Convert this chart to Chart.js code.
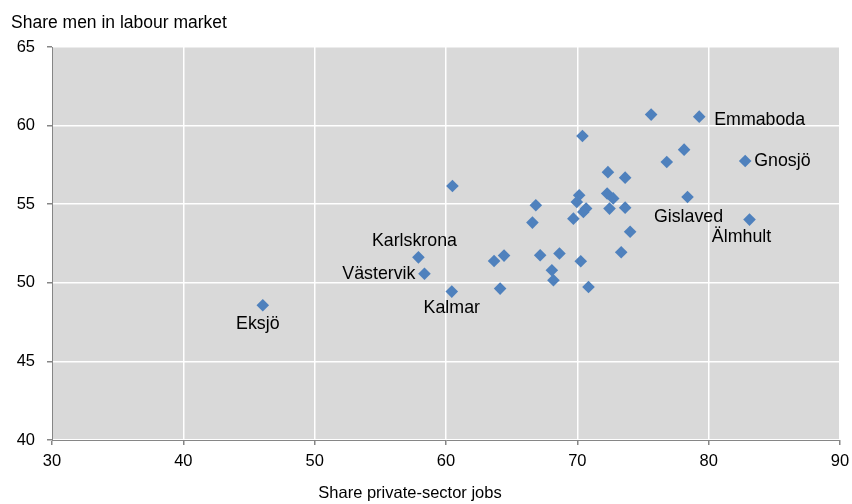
<!DOCTYPE html>
<html>
<head>
<meta charset="utf-8">
<script src="https://cdn.jsdelivr.net/npm/chart.js@4.4.1/dist/chart.umd.min.js"></script>
<style>
  html, body { margin: 0; padding: 0; background: #fff; }
  #wrap { width: 852px; height: 504px; position: relative; }
</style>
</head>
<body>
<div id="wrap"><canvas id="chart"></canvas></div>
<script>
// share of private-sector jobs (x) and share of men in labour market (y), per municipality
let privateJobs = [
  70.39, 72.33, 60.49, 66.84, 66.58, 70.14, 69.96, 70.67, 70.46, 69.70,
  72.27, 72.73, 72.45, 73.64, 74.02, 75.62, 79.28, 78.13, 76.81, 82.78,
  73.64, 78.39, 83.11, 73.34, 57.90, 58.36, 60.44, 46.05, 63.66, 64.42,
  64.12, 67.17, 68.64, 68.06, 68.18, 70.26, 70.85
];
let menShare = [
  59.34, 57.04, 56.16, 54.93, 53.83, 55.57, 55.14, 54.73, 54.51, 54.08,
  55.68, 55.37, 54.72, 54.78, 53.25, 60.70, 60.57, 58.47, 57.68, 57.75,
  56.69, 55.46, 54.02, 51.94, 51.62, 50.58, 49.44, 48.57, 51.39, 51.73,
  49.63, 51.75, 51.86, 50.80, 50.16, 51.37, 49.73
];
let names = [
  "", "", "", "", "", "", "", "", "", "",
  "", "", "", "", "", "", "Emmaboda", "", "", "Gnosjö",
  "", "Gislaved", "Älmhult", "", "Karlskrona", "Västervik", "Kalmar", "Eksjö", "", "",
  "", "", "", "", "", "", ""
];
let xTicks = [30, 40, 50, 60, 70, 80, 90];
let yTicks = [40, 45, 50, 55, 60, 65];

let xTitle = "Share private-sector jobs";
let yTitle = "Share men in labour market";

// where each town name sits relative to its marker
let labelPlace = {
  "Emmaboda":   { align: "left",   dx: 15, dy: 3 },
  "Gnosjö":     { align: "left",   dx: 9,  dy: 0 },
  "Gislaved":   { align: "center", dx: 1,  dy: 20 },
  "Älmhult":    { align: "center", dx: -8, dy: 17 },
  "Karlskrona": { align: "center", dx: -4, dy: -16 },
  "Västervik":  { align: "right",  dx: -9, dy: 0 },
  "Kalmar":     { align: "center", dx: 0,  dy: 16 },
  "Eksjö":      { align: "center", dx: -5, dy: 19 }
};

let FONT = "'Liberation Sans', Arial, sans-serif";

let points = privateJobs.map(function(x, i) { return { x: x, y: menShare[i] }; });

let plotBg = {
  id: "plotBg",
  beforeDraw: function(chart) {
    let a = chart.chartArea, ctx = chart.ctx;
    ctx.save();
    ctx.fillStyle = "#D9D9D9";
    ctx.fillRect(a.left, a.top, a.right - a.left, a.bottom - a.top);
    ctx.restore();
  }
};

let townLabels = {
  id: "townLabels",
  afterDatasetsDraw: function(chart) {
    let ctx = chart.ctx;
    let meta = chart.getDatasetMeta(0);
    ctx.save();
    ctx.font = "17.8px " + FONT;
    ctx.fillStyle = "#000";
    ctx.textBaseline = "middle";
    names.forEach(function(n, i) {
      if (!n) return;
      let p = labelPlace[n];
      let el = meta.data[i];
      ctx.textAlign = p.align;
      ctx.fillText(n, el.x + p.dx, el.y + p.dy);
    });
    ctx.restore();
  }
};

let axisTitles = {
  id: "axisTitles",
  afterDraw: function(chart) {
    let ctx = chart.ctx;
    ctx.save();
    ctx.fillStyle = "#000";
    ctx.textBaseline = "middle";
    ctx.font = "17.5px " + FONT;
    ctx.textAlign = "left";
    ctx.fillText(yTitle, 11, 23);
    ctx.font = "16.5px " + FONT;
    ctx.textAlign = "center";
    ctx.fillText(xTitle, 410, 493);
    ctx.restore();
  }
};

new Chart(document.getElementById("chart"), {
  type: "scatter",
  data: {
    datasets: [{
      data: points,
      pointStyle: "rectRot",
      pointRadius: 6.3,
      pointHoverRadius: 6.3,
      backgroundColor: "#4F81BD",
      borderColor: "#4F81BD",
      borderWidth: 0
    }]
  },
  options: {
    responsive: true,
    maintainAspectRatio: false,
    animation: false,
    events: [],
    layout: { padding: { top: 47, right: 12, left: 0, bottom: 0 } },
    plugins: {
      legend: { display: false },
      tooltip: { enabled: false }
    },
    scales: {
      x: {
        type: "linear",
        min: 30,
        max: 90,
        afterBuildTicks: function(axis) {
          axis.ticks = xTicks.map(function(v) { return { value: v }; });
        },
        afterFit: function(axis) {
          axis.height = 64;
          axis.paddingLeft = 0;
          axis.paddingRight = 0;
        },
        grid: { color: "#FFFFFF", lineWidth: 1.5, tickColor: "#868686", tickLength: 5 },
        border: { color: "#868686", width: 1 },
        ticks: { color: "#000", padding: 7, font: { family: FONT, size: 16.5 } }
      },
      y: {
        type: "linear",
        min: 40,
        max: 65,
        afterBuildTicks: function(axis) {
          axis.ticks = yTicks.map(function(v) { return { value: v }; });
        },
        afterFit: function(axis) {
          axis.width = 52;
          axis.paddingTop = 0;
          axis.paddingBottom = 0;
        },
        grid: { color: "#FFFFFF", lineWidth: 1.5, tickColor: "#868686", tickLength: 5 },
        border: { color: "#868686", width: 1 },
        ticks: { color: "#000", padding: 12, font: { family: FONT, size: 16.5 } }
      }
    }
  },
  plugins: [plotBg, townLabels, axisTitles]
});
</script>
</body>
</html>
